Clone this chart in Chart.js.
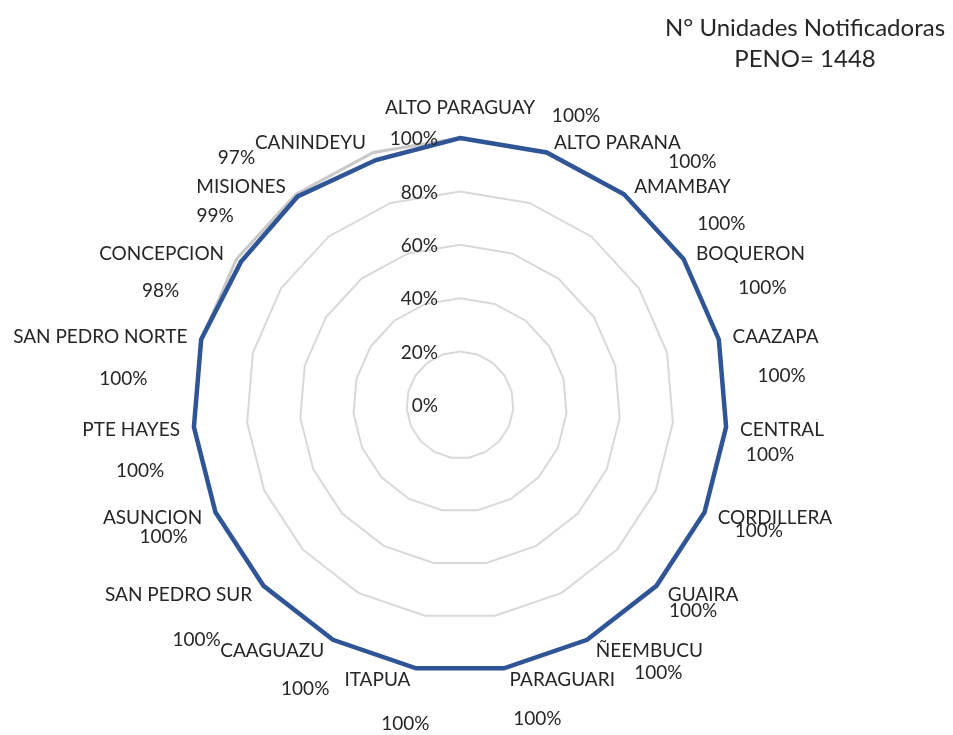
<!DOCTYPE html>
<html>
<head>
<meta charset="utf-8">
<script src="https://cdn.jsdelivr.net/npm/chart.js@4/dist/chart.umd.min.js"></script>
<style>
  html, body { margin: 0; padding: 0; background: #fff; }
  #wrap { width: 953px; height: 735px; position: relative; }
</style>
</head>
<body>
<div id="wrap"><canvas id="radar"></canvas></div>
<script>
// radar of notifying units per region (PENO)

var regiones = ['ALTO PARAGUAY', 'ALTO PARANA', 'AMAMBAY', 'BOQUERON', 'CAAZAPA', 'CENTRAL',
    'CORDILLERA', 'GUAIRA', 'ÑEEMBUCU', 'PARAGUARI', 'ITAPUA', 'CAAGUAZU', 'SAN PEDRO SUR',
    'ASUNCION', 'PTE HAYES', 'SAN PEDRO NORTE', 'CONCEPCION', 'MISIONES', 'CANINDEYU'];
var notificadoras = [100, 100, 100, 100, 100, 100, 100, 100, 100, 100, 100, 100, 100,
    100, 100, 100, 98, 99, 97];
var meta = [100, 100, 100, 100, 100, 100, 100, 100, 100, 100, 100, 100, 100,
    100, 100, 100, 100, 100, 100];
var tickValues = [0, 20, 40, 60, 80, 100];
var titulo = ['N° Unidades Notificadoras', 'PENO= 1448'];

// where the value labels sit, relative to the region name (like dragged excel labels)
var labelShift = [[116, 8], [75, 19], [39, 37], [12, 34], [6, 39], [-12, 25], [-16, 13],
    [-10, 16], [9, 22], [-25, 39], [28, 44], [33, 38], [18, 45], [11, 19], [9, 41],
    [23, 42], [-1, 37], [-26, 29], [-74, 15]];

var FONT = 'Lato, "Open Sans", sans-serif';
var TEXT = '#262626';

var labelsPlugin = {
    id: 'labelsPlugin',
    afterDraw: function (chart) {
        var ctx = chart.ctx;
        var scale = chart.scales.r;
        var R = scale.drawingArea;
        ctx.save();
        ctx.fillStyle = TEXT;
        ctx.font = '19px ' + FONT;

        // tick labels, right aligned just left of the vertical axis
        ctx.textAlign = 'right';
        ctx.textBaseline = 'middle';
        tickValues.forEach(function (v) {
            var y = scale.yCenter - scale.getDistanceFromCenterForValue(v);
            ctx.fillText(v + '%', scale.xCenter - 22, y + 1);
        });

        // category names and values
        var n = regiones.length;
        regiones.forEach(function (name, i) {
            var deg = i * 360 / n;
            var pad = deg === 0 ? 20 : 10;
            var p = scale.getPointPosition(i, R + pad);
            var w = ctx.measureText(name).width;
            var cx, cy;
            if (deg === 0) {
                cx = p.x; cy = p.y - 10;
            } else if (deg < 180) {
                cx = p.x + 4 + w / 2; cy = p.y;
            } else {
                cx = p.x - 4 - w / 2; cy = p.y;
            }
            if (deg > 90 && deg < 270) cy += 2;
            ctx.textAlign = 'center';
            ctx.textBaseline = 'middle';
            ctx.fillText(name, cx, cy);
            var s = labelShift[i];
            ctx.fillText(notificadoras[i] + '%', cx + s[0], cy + s[1]);
        });

        // title
        ctx.font = '24px ' + FONT;
        ctx.textAlign = 'center';
        ctx.fillText(titulo[0], 805, 28);
        ctx.fillText(titulo[1], 805, 59);
        ctx.restore();
    }
};

new Chart(document.getElementById('radar'), {
    type: 'radar',
    data: {
        labels: regiones,
        datasets: [{
            label: 'Notificadoras',
            data: notificadoras,
            borderColor: '#2F5597',
            borderWidth: 4.5,
            fill: false,
            pointRadius: 0,
            order: 1
        }, {
            label: 'Meta',
            data: meta,
            borderColor: '#C9C9C9',
            borderWidth: 3,
            fill: false,
            pointRadius: 0,
            order: 2
        }]
    },
    options: {
        responsive: true,
        maintainAspectRatio: false,
        animation: false,
        plugins: {
            legend: { display: false },
            tooltip: { enabled: false }
        },
        scales: {
            r: {
                min: 0,
                max: 100,
                ticks: { stepSize: 20, display: false },
                pointLabels: { display: false },
                angleLines: { display: false },
                grid: { color: '#D9D9D9', lineWidth: 2 },
                afterFit: function (scale) {
                    scale.xCenter = 460;
                    scale.yCenter = 405;
                    scale.drawingArea = 267;
                }
            }
        }
    },
    plugins: [labelsPlugin]
});
</script>
</body>
</html>
